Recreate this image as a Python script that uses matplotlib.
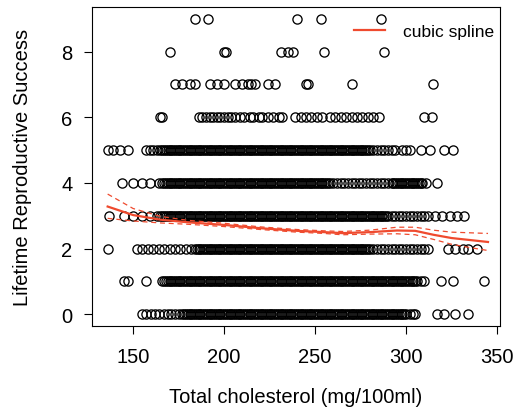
"""
Lifetime reproductive success vs total cholesterol, with cubic spline fit and 95% band.
"""

import matplotlib

matplotlib.use("Agg")
import matplotlib.pyplot as plt

plt.rcParams["font.family"] = ["Liberation Sans", "DejaVu Sans"]

# observed cholesterol values (mg/100ml) per lifetime reproductive success level
LRS_0 = [
    155, 157, 160, 162, 164, 167, 169, 171, 173, 175, 177,
    178, 179, 180, 181, 182, 183, 184, 185, 186, 187, 188, 189, 190, 191, 192, 193, 194, 195, 196, 197,
    198, 199, 200, 201, 202, 203, 204, 205, 206, 207, 208, 209, 210, 211, 212, 213, 214, 215, 216, 217,
    218, 219, 220, 221, 222, 223, 224, 225, 226, 227, 228, 229, 230, 231, 232, 233, 234, 235, 236, 237,
    238, 239, 240, 241, 242, 243, 244, 245, 246, 247, 248, 249, 250, 251, 252, 253, 254, 255, 256, 257,
    258, 259, 260, 261, 262, 263, 264, 265, 266, 267, 268, 269, 270, 271, 272, 273, 274, 275, 276, 277,
    278, 279, 280, 281, 282, 283, 284, 285, 286, 287, 288, 289, 290, 291, 292, 293, 294, 295, 296, 297,
    298, 299, 300, 302, 304, 305, 317, 321, 327, 334,
]
LRS_1 = [
    145, 147, 157,
    166, 167, 168, 169, 170, 171, 172, 173, 174, 175, 176, 177, 178, 179, 180, 181, 182, 183, 184, 185,
    186, 187, 188, 189, 190, 191, 192, 193, 194, 195, 196, 197, 198, 199, 200, 201, 202, 203, 204, 205,
    206, 207, 208, 209, 210, 211, 212, 213, 214, 215, 216, 217, 218, 219, 220, 221, 222, 223, 224, 225,
    226, 227, 228, 229, 230, 231, 232, 233, 234, 235, 236, 237, 238, 239, 240, 241, 242, 243, 244, 245,
    246, 247, 248, 249, 250, 251, 252, 253, 254, 255, 256, 257, 258, 259, 260, 261, 262, 263, 264, 265,
    266, 267, 268, 269, 270, 271, 272, 273, 274, 275, 276, 277, 278, 279, 280, 281, 282, 283, 284, 285,
    286, 287, 288, 289, 290, 291, 292, 293, 294, 295, 296, 297, 298, 299, 300, 301, 302, 303, 304, 305,
    306, 308, 310, 319, 326, 343,
]
LRS_2 = [
    136, 152, 155, 158, 161, 164, 167, 170, 173, 176, 179, 182,
    184, 185, 186, 187, 188, 189, 190, 191, 192, 193, 194, 195, 196, 197, 198, 199, 200, 201, 202, 203,
    204, 205, 206, 207, 208, 209, 210, 211, 212, 213, 214, 215, 216, 217, 218, 219, 220, 221, 222, 223,
    224, 225, 226, 227, 228, 229, 230, 231, 232, 233, 234, 235, 236, 237, 238, 239, 240, 241, 242, 243,
    244, 245, 246, 247, 248, 249, 250, 251, 252, 253, 254, 255, 256, 257, 258, 259, 260, 261, 262, 263,
    264, 265, 266, 267, 268, 269, 270, 271, 272, 273, 274, 275, 276, 277, 278, 279, 280,
    282, 284, 286, 288, 290, 292, 294, 296, 298, 300, 302, 304, 306, 308, 310, 312,
    323, 327, 331, 334, 339,
]
LRS_3 = [
    137, 145, 150, 155, 159, 163,
    165, 166, 167, 168, 169, 170, 171, 172, 173, 174, 175, 176, 177, 178, 179, 180, 181, 182, 183, 184,
    185, 186, 187, 188, 189, 190, 191, 192, 193, 194, 195, 196, 197, 198, 199, 200, 201, 202, 203, 204,
    205, 206, 207, 208, 209, 210, 211, 212, 213, 214, 215, 216, 217, 218, 219, 220, 221, 222, 223, 224,
    225, 226, 227, 228, 229, 230, 231, 232, 233, 234, 235, 236, 237, 238, 239, 240, 241, 242, 243, 244,
    245, 246, 247, 248, 249, 250, 251, 252, 253, 254, 255, 256, 257, 258, 259, 260, 261, 262, 263, 264,
    265, 266, 267, 268, 269, 270, 271, 272, 273, 274, 275, 276, 277, 278, 279, 280, 281, 282, 283, 284,
    285, 286, 287, 288, 289, 290,
    292, 294, 296, 298, 300, 302, 304, 306, 308, 310, 312,
    316, 320, 324, 328, 332,
]
LRS_4 = [
    144, 150, 155, 159, 164,
    166, 167, 168, 169, 170, 171, 172, 173, 174, 175, 176, 177, 178, 179, 180, 181, 182, 183, 184, 185,
    186, 187, 188, 189, 190, 191, 192, 193, 194, 195, 196, 197, 198, 199, 200, 201, 202, 203, 204, 205,
    206, 207, 208, 209, 210, 211, 212, 213, 214, 215, 216, 217, 218, 219, 220, 221, 222, 223, 224, 225,
    226, 227, 228, 229, 230, 231, 232, 233, 234, 235, 236, 237, 238, 239, 240, 241, 242, 243, 244, 245,
    246, 247, 248, 249, 250, 251, 252, 253, 254, 255, 256, 257, 258,
    260, 262, 264, 266, 268, 270, 272, 274, 276, 278, 280, 282, 284, 286, 288, 290, 292,
    293, 294, 295, 296, 297, 298, 299, 300, 301, 302, 303, 304, 305, 306, 307, 308, 309,
    311, 317,
]
LRS_5 = [
    136, 139, 143, 147, 157, 159, 161, 163,
    165, 166, 167, 168, 169, 170, 171, 172, 173, 174, 175, 176, 177, 178, 179, 180, 181, 182, 183, 184,
    185, 186, 187, 188, 189, 190, 191, 192, 193, 194, 195, 196, 197, 198, 199, 200, 201, 202, 203, 204,
    205, 206, 207, 208, 209, 210, 211, 212, 213, 214, 215, 216, 217, 218, 219, 220, 221, 222, 223, 224,
    225, 226, 227, 228, 229, 230, 231, 232, 233, 234, 235, 236, 237, 238, 239, 240, 241, 242, 243, 244,
    245, 246, 247, 248, 249, 250, 251, 252, 253, 254, 255, 256, 257, 258, 259, 260, 261, 262, 263, 264,
    265, 266, 267, 268, 269, 270, 271, 272, 273, 274, 275, 276, 277, 278, 279, 280,
    282, 284, 286, 288, 290, 292, 294, 298, 300, 302, 308, 313, 321, 326,
]
LRS_6 = [
    165, 166, 186, 188, 190, 192, 194, 196, 198, 200, 202, 204, 206, 209, 211, 214, 216, 219, 221,
    224, 227, 230, 232, 239, 242, 245, 248, 251, 254, 258, 261, 264, 267, 270, 273, 276, 279, 282,
    285, 310, 314,
]
LRS_7 = [173, 177, 181, 184, 192, 196, 200, 206, 210, 213, 215, 217, 224, 228, 245, 246, 270, 315]
LRS_8 = [170, 200, 201, 231, 235, 238, 255, 288]
LRS_9 = [184, 191, 240, 253, 286]
LEVELS = [LRS_0, LRS_1, LRS_2, LRS_3, LRS_4, LRS_5, LRS_6, LRS_7, LRS_8, LRS_9]

# cubic spline fit with pointwise 95% band
SPLINE_X = [136, 150, 165, 180, 200, 220, 240, 255, 265, 280, 295, 305, 315, 325, 335, 345]
SPLINE_FIT = [3.28, 3.02, 2.88, 2.80, 2.72, 2.62, 2.54, 2.50, 2.47, 2.50, 2.55, 2.54, 2.42, 2.32, 2.26, 2.20]
SPLINE_UP = [3.66, 3.22, 2.98, 2.86, 2.77, 2.66, 2.58, 2.54, 2.52, 2.56, 2.65, 2.65, 2.56, 2.50, 2.48, 2.46]
SPLINE_LO = [2.92, 2.84, 2.78, 2.74, 2.67, 2.58, 2.50, 2.46, 2.42, 2.44, 2.45, 2.42, 2.28, 2.13, 2.03, 1.94]

X_TICKS = [150, 200, 250, 300, 350]
Y_TICKS = [0, 2, 4, 6, 8]
RED = "#EF4A2E"
FS = 14.5


def main() -> None:
    fig = plt.figure(figsize=(5.18, 4.10), dpi=100)
    ax = fig.add_axes((92 / 518, 1 - 327 / 410, 408 / 518, 319 / 410))

    for level, xs in enumerate(LEVELS):
        ax.plot(
            xs, [level] * len(xs), linestyle="none", marker="o", markersize=6.6,
            markerfacecolor="none", markeredgecolor="black", markeredgewidth=0.95,
        )

    ax.plot(SPLINE_X, SPLINE_FIT, color=RED, lw=1.6, label="cubic spline")
    for band in (SPLINE_UP, SPLINE_LO):
        ax.plot(SPLINE_X, band, color=RED, lw=0.9, linestyle=(0, (4, 3)))

    ax.set_xlim(127.4, 351.6)
    ax.set_ylim(-0.36, 9.36)
    ax.set_xticks(X_TICKS)
    ax.set_yticks(Y_TICKS)
    ax.tick_params(direction="out", length=6, width=0.8, labelsize=FS, pad=8)
    ax.tick_params(axis="x", pad=9)
    for sp in ax.spines.values():
        sp.set_linewidth(0.8)

    ax.legend(
        loc="upper right", bbox_to_anchor=(0.985, 0.948), frameon=False, fontsize=12.5,
        handlelength=1.8, handletextpad=1.0, borderpad=0, borderaxespad=0,
    )

    fig.text(0.5714, 0.0317, "Total cholesterol (mg/100ml)", ha="center", va="center", fontsize=FS)
    fig.text(0.0425, 0.5915, "Lifetime Reproductive Success", ha="center", va="center",
             rotation=90, fontsize=FS)

    fig.savefig("out.png", dpi=100)
    plt.close(fig)


if __name__ == "__main__":
    main()
